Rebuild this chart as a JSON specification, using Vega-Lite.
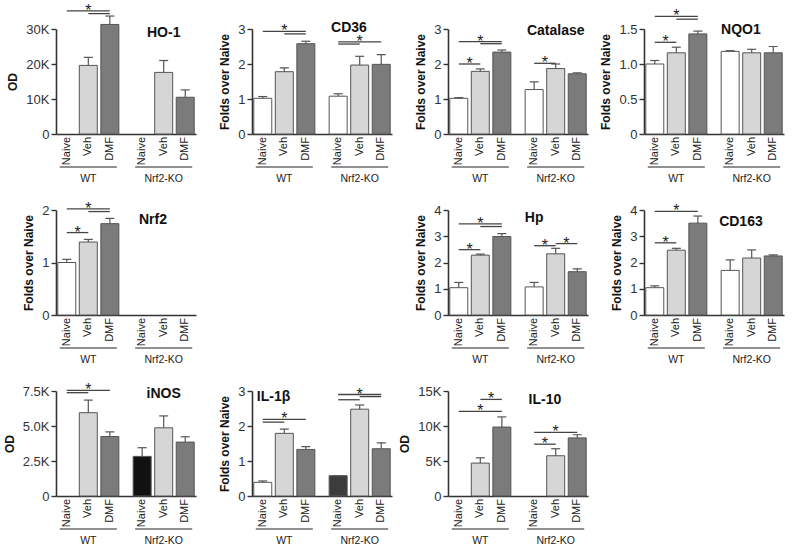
{
"$schema": "https://vega.github.io/schema/vega-lite/v6.json",
"padding": {"left": 3, "top": 2, "right": 5, "bottom": 5},
"background": "white",
"config": {
  "font": "Liberation Sans",
  "view": {"stroke": null},
  "axisX": {"labels": false, "ticks": false, "title": null, "domainColor": "#333", "domainWidth": 1.6, "grid": false},
  "axisY": {"grid": false, "domainColor": "#333", "domainWidth": 1.6, "tickColor": "#333", "tickWidth": 1.4, "tickSize": 5, "labelFontSize": 13, "labelColor": "#333", "labelPadding": 2, "titleFontSize": 12, "titleFontWeight": "bold", "titleColor": "#111", "titlePadding": 6}
},
"datasets": {
  "conds": [
    {"cond": "WT Naive", "treat": "Naive"}, {"cond": "WT Veh", "treat": "Veh"}, {"cond": "WT DMF", "treat": "DMF"},
    {"cond": "KO Naive", "treat": "Naive"}, {"cond": "KO Veh", "treat": "Veh"}, {"cond": "KO DMF", "treat": "DMF"}
  ],
  "groups": [
    {"group": "WT", "from": "WT Naive", "mid": "WT Veh", "to": "WT DMF"},
    {"group": "Nrf2-KO", "from": "KO Naive", "mid": "KO Veh", "to": "KO DMF"}
  ],
  "bars": [
    {"panel": "HO-1", "cond": "WT Veh", "treat": "Veh", "value": 19600, "hi": 21900},
    {"panel": "HO-1", "cond": "WT DMF", "treat": "DMF", "value": 31300, "hi": 33700},
    {"panel": "HO-1", "cond": "KO Veh", "treat": "Veh", "value": 17600, "hi": 21000},
    {"panel": "HO-1", "cond": "KO DMF", "treat": "DMF", "value": 10500, "hi": 12600},
    {"panel": "CD36", "cond": "WT Naive", "treat": "Naive", "value": 1.02, "hi": 1.07},
    {"panel": "CD36", "cond": "WT Veh", "treat": "Veh", "value": 1.78, "hi": 1.89},
    {"panel": "CD36", "cond": "WT DMF", "treat": "DMF", "value": 2.58, "hi": 2.65},
    {"panel": "CD36", "cond": "KO Naive", "treat": "Naive", "value": 1.08, "hi": 1.15},
    {"panel": "CD36", "cond": "KO Veh", "treat": "Veh", "value": 1.97, "hi": 2.22},
    {"panel": "CD36", "cond": "KO DMF", "treat": "DMF", "value": 1.99, "hi": 2.27},
    {"panel": "Catalase", "cond": "WT Naive", "treat": "Naive", "value": 1.02, "hi": 1.04},
    {"panel": "Catalase", "cond": "WT Veh", "treat": "Veh", "value": 1.79, "hi": 1.86},
    {"panel": "Catalase", "cond": "WT DMF", "treat": "DMF", "value": 2.34, "hi": 2.40},
    {"panel": "Catalase", "cond": "KO Naive", "treat": "Naive", "value": 1.27, "hi": 1.49},
    {"panel": "Catalase", "cond": "KO Veh", "treat": "Veh", "value": 1.87, "hi": 2.0},
    {"panel": "Catalase", "cond": "KO DMF", "treat": "DMF", "value": 1.72, "hi": 1.75},
    {"panel": "NQO1", "cond": "WT Naive", "treat": "Naive", "value": 1.0, "hi": 1.05},
    {"panel": "NQO1", "cond": "WT Veh", "treat": "Veh", "value": 1.16, "hi": 1.24},
    {"panel": "NQO1", "cond": "WT DMF", "treat": "DMF", "value": 1.43, "hi": 1.47},
    {"panel": "NQO1", "cond": "KO Naive", "treat": "Naive", "value": 1.18, "hi": 1.19},
    {"panel": "NQO1", "cond": "KO Veh", "treat": "Veh", "value": 1.16, "hi": 1.21},
    {"panel": "NQO1", "cond": "KO DMF", "treat": "DMF", "value": 1.16, "hi": 1.25},
    {"panel": "Nrf2", "cond": "WT Naive", "treat": "Naive", "value": 1.0, "hi": 1.06},
    {"panel": "Nrf2", "cond": "WT Veh", "treat": "Veh", "value": 1.39, "hi": 1.44},
    {"panel": "Nrf2", "cond": "WT DMF", "treat": "DMF", "value": 1.74, "hi": 1.84},
    {"panel": "Hp", "cond": "WT Naive", "treat": "Naive", "value": 1.04, "hi": 1.24},
    {"panel": "Hp", "cond": "WT Veh", "treat": "Veh", "value": 2.28, "hi": 2.32},
    {"panel": "Hp", "cond": "WT DMF", "treat": "DMF", "value": 2.99, "hi": 3.1},
    {"panel": "Hp", "cond": "KO Naive", "treat": "Naive", "value": 1.07, "hi": 1.24},
    {"panel": "Hp", "cond": "KO Veh", "treat": "Veh", "value": 2.33, "hi": 2.54},
    {"panel": "Hp", "cond": "KO DMF", "treat": "DMF", "value": 1.65, "hi": 1.76},
    {"panel": "CD163", "cond": "WT Naive", "treat": "Naive", "value": 1.04, "hi": 1.11},
    {"panel": "CD163", "cond": "WT Veh", "treat": "Veh", "value": 2.47, "hi": 2.54},
    {"panel": "CD163", "cond": "WT DMF", "treat": "DMF", "value": 3.5, "hi": 3.77},
    {"panel": "CD163", "cond": "KO Naive", "treat": "Naive", "value": 1.7, "hi": 2.1},
    {"panel": "CD163", "cond": "KO Veh", "treat": "Veh", "value": 2.17, "hi": 2.48},
    {"panel": "CD163", "cond": "KO DMF", "treat": "DMF", "value": 2.25, "hi": 2.29},
    {"panel": "iNOS", "cond": "WT Veh", "treat": "Veh", "value": 5950, "hi": 6850},
    {"panel": "iNOS", "cond": "WT DMF", "treat": "DMF", "value": 4250, "hi": 4580},
    {"panel": "iNOS", "cond": "KO Naive", "treat": "Naive", "value": 2830, "hi": 3450},
    {"panel": "iNOS", "cond": "KO Veh", "treat": "Veh", "value": 4870, "hi": 5720},
    {"panel": "iNOS", "cond": "KO DMF", "treat": "DMF", "value": 3850, "hi": 4230},
    {"panel": "IL-1b", "cond": "WT Naive", "treat": "Naive", "value": 0.39, "hi": 0.43},
    {"panel": "IL-1b", "cond": "WT Veh", "treat": "Veh", "value": 1.79, "hi": 1.91},
    {"panel": "IL-1b", "cond": "WT DMF", "treat": "DMF", "value": 1.33, "hi": 1.41},
    {"panel": "IL-1b", "cond": "KO Naive", "treat": "Naive", "value": 0.58, "hi": 0.58},
    {"panel": "IL-1b", "cond": "KO Veh", "treat": "Veh", "value": 2.48, "hi": 2.6},
    {"panel": "IL-1b", "cond": "KO DMF", "treat": "DMF", "value": 1.35, "hi": 1.52},
    {"panel": "IL-10", "cond": "WT Veh", "treat": "Veh", "value": 4700, "hi": 5450},
    {"panel": "IL-10", "cond": "WT DMF", "treat": "DMF", "value": 9850, "hi": 11300},
    {"panel": "IL-10", "cond": "KO Veh", "treat": "Veh", "value": 5750, "hi": 6750},
    {"panel": "IL-10", "cond": "KO DMF", "treat": "DMF", "value": 8300, "hi": 8750}
  ],
  "sig": [
    {"panel": "HO-1", "from": "WT Naive", "to": "WT DMF", "y": 35200},
    {"panel": "HO-1", "from": "WT Veh", "to": "WT DMF", "y": 34400},
    {"panel": "CD36", "from": "WT Naive", "to": "WT DMF", "y": 2.93},
    {"panel": "CD36", "from": "WT Veh", "to": "WT DMF", "y": 2.86},
    {"panel": "CD36", "from": "KO Naive", "to": "KO DMF", "y": 2.63},
    {"panel": "CD36", "from": "KO Naive", "to": "KO Veh", "y": 2.57},
    {"panel": "Catalase", "from": "WT Naive", "to": "WT DMF", "y": 2.64},
    {"panel": "Catalase", "from": "WT Veh", "to": "WT DMF", "y": 2.58},
    {"panel": "Catalase", "from": "WT Naive", "to": "WT Veh", "y": 2.0},
    {"panel": "Catalase", "from": "KO Naive", "to": "KO Veh", "y": 2.02},
    {"panel": "NQO1", "from": "WT Naive", "to": "WT DMF", "y": 1.68},
    {"panel": "NQO1", "from": "WT Veh", "to": "WT DMF", "y": 1.64},
    {"panel": "NQO1", "from": "WT Naive", "to": "WT Veh", "y": 1.31},
    {"panel": "Nrf2", "from": "WT Naive", "to": "WT DMF", "y": 2.02},
    {"panel": "Nrf2", "from": "WT Veh", "to": "WT DMF", "y": 1.97},
    {"panel": "Nrf2", "from": "WT Naive", "to": "WT Veh", "y": 1.57},
    {"panel": "Hp", "from": "WT Naive", "to": "WT DMF", "y": 3.47},
    {"panel": "Hp", "from": "WT Veh", "to": "WT DMF", "y": 3.37},
    {"panel": "Hp", "from": "WT Naive", "to": "WT Veh", "y": 2.49},
    {"panel": "Hp", "from": "KO Naive", "to": "KO Veh", "y": 2.64},
    {"panel": "Hp", "from": "KO Veh", "to": "KO DMF", "y": 2.72},
    {"panel": "CD163", "from": "WT Naive", "to": "WT DMF", "y": 3.95},
    {"panel": "CD163", "from": "WT Naive", "to": "WT Veh", "y": 2.75},
    {"panel": "iNOS", "from": "WT Naive", "to": "WT DMF", "y": 7550},
    {"panel": "iNOS", "from": "WT Naive", "to": "WT Veh", "y": 7380},
    {"panel": "IL-1b", "from": "WT Naive", "to": "WT DMF", "y": 2.19},
    {"panel": "IL-1b", "from": "WT Naive", "to": "WT Veh", "y": 2.11},
    {"panel": "IL-1b", "from": "KO Naive", "to": "KO DMF", "y": 2.9},
    {"panel": "IL-1b", "from": "KO Naive", "to": "KO Veh", "y": 2.75},
    {"panel": "IL-1b", "from": "KO Veh", "to": "KO DMF", "y": 2.84},
    {"panel": "IL-10", "from": "WT Naive", "to": "WT DMF", "y": 12100},
    {"panel": "IL-10", "from": "WT Veh", "to": "WT DMF", "y": 13800},
    {"panel": "IL-10", "from": "KO Naive", "to": "KO DMF", "y": 9100},
    {"panel": "IL-10", "from": "KO Naive", "to": "KO Veh", "y": 7400}
  ],
  "stars": [
    {"panel": "HO-1", "cond": "WT Veh", "y": 35200},
    {"panel": "CD36", "cond": "WT Veh", "y": 2.93},
    {"panel": "CD36", "cond": "KO Veh", "y": 2.63},
    {"panel": "Catalase", "cond": "WT Veh", "y": 2.64},
    {"panel": "Catalase", "cond": "WT Naive-Veh", "y": 2.0},
    {"panel": "Catalase", "cond": "KO Naive-Veh", "y": 2.02},
    {"panel": "NQO1", "cond": "WT Veh", "y": 1.68},
    {"panel": "NQO1", "cond": "WT Naive-Veh", "y": 1.31},
    {"panel": "Nrf2", "cond": "WT Veh", "y": 2.02},
    {"panel": "Nrf2", "cond": "WT Naive-Veh", "y": 1.57},
    {"panel": "Hp", "cond": "WT Veh", "y": 3.47},
    {"panel": "Hp", "cond": "WT Naive-Veh", "y": 2.49},
    {"panel": "Hp", "cond": "KO Naive-Veh", "y": 2.64},
    {"panel": "Hp", "cond": "KO Veh-DMF", "y": 2.72},
    {"panel": "CD163", "cond": "WT Veh", "y": 3.95},
    {"panel": "CD163", "cond": "WT Naive-Veh", "y": 2.75},
    {"panel": "iNOS", "cond": "WT Veh", "y": 7550},
    {"panel": "IL-1b", "cond": "WT Veh", "y": 2.19},
    {"panel": "IL-1b", "cond": "KO Veh", "y": 2.9},
    {"panel": "IL-10", "cond": "WT Veh", "y": 12100},
    {"panel": "IL-10", "cond": "WT Veh-DMF", "y": 13800},
    {"panel": "IL-10", "cond": "KO Veh", "y": 9100},
    {"panel": "IL-10", "cond": "KO Naive-Veh", "y": 7400}
  ],
  "titles": [
    {"panel": "HO-1", "cond": "KO Veh", "y": 28900, "text": "HO-1"},
    {"panel": "CD36", "cond": "KO Naive-Veh", "y": 3.04, "text": "CD36"},
    {"panel": "Catalase", "cond": "KO Veh", "y": 2.95, "text": "Catalase"},
    {"panel": "NQO1", "cond": "KO Naive-Veh", "y": 1.49, "text": "NQO1"},
    {"panel": "Nrf2", "cond": "KO Naive-Veh", "y": 1.81, "text": "Nrf2"},
    {"panel": "Hp", "cond": "KO Naive", "y": 3.69, "text": "Hp"},
    {"panel": "CD163", "cond": "KO Naive-Veh", "y": 3.53, "text": "CD163"},
    {"panel": "iNOS", "cond": "KO Veh", "y": 7260, "text": "iNOS"},
    {"panel": "IL-1b", "cond": "WT Naive-Veh", "y": 2.83, "text": "IL-1β"},
    {"panel": "IL-10", "cond": "KO Naive-Veh", "y": 13700, "text": "IL-10"}
  ]
},
"columns": 4,
"spacing": {"row": 76, "column": 56},
"bounds": "flush",
"concat": [
{"width": 140, "height": 105, "layer": [
 {"data": {"name": "bars"}, "transform": [{"filter": "datum.panel==='HO-1'"}], "mark": {"type": "bar", "width": 18, "stroke": "#555", "strokeWidth": 1}, "encoding": {"x": {"field": "cond", "type": "nominal", "scale": {"type": "point", "domain": ["WT Naive","WT Naive-Veh","WT Veh","WT Veh-DMF","WT DMF","gap a","gap b","KO Naive","KO Naive-Veh","KO Veh","KO Veh-DMF","KO DMF"], "padding": 1.14}}, "y": {"field": "value", "type": "quantitative", "scale": {"domain": [0, 30000], "nice": false}, "axis": {"values": [0, 10000, 20000, 30000], "labelOverlap": false, "labelFlush": false, "labelBound": false, "labelExpr": "datum.value === 0 ? '0' : (datum.value/1000) + 'K'", "title": "OD"}}, "fill": {"field": "treat", "type": "nominal", "scale": {"domain": ["Naive","Veh","DMF"], "range": ["#ffffff","#d6d6d6","#7b7b7b"]}, "legend": null}}},
 {"data": {"name": "bars"}, "transform": [{"filter": "datum.panel==='HO-1'"}], "mark": {"type": "rule", "color": "#555", "strokeWidth": 1.2}, "encoding": {"x": {"field": "cond", "type": "nominal", "scale": {"type": "point", "domain": ["WT Naive","WT Naive-Veh","WT Veh","WT Veh-DMF","WT DMF","gap a","gap b","KO Naive","KO Naive-Veh","KO Veh","KO Veh-DMF","KO DMF"], "padding": 1.14}}, "y": {"field": "value", "type": "quantitative", "axis": {"values": [0, 10000, 20000, 30000], "labelOverlap": false, "labelFlush": false, "labelBound": false, "labelExpr": "datum.value === 0 ? '0' : (datum.value/1000) + 'K'", "title": "OD"}}, "y2": {"field": "hi"}}},
 {"data": {"name": "bars"}, "transform": [{"filter": "datum.panel==='HO-1'"}], "mark": {"type": "tick", "color": "#555", "thickness": 1.2, "size": 9, "opacity": 1}, "encoding": {"x": {"field": "cond", "type": "nominal", "scale": {"type": "point", "domain": ["WT Naive","WT Naive-Veh","WT Veh","WT Veh-DMF","WT DMF","gap a","gap b","KO Naive","KO Naive-Veh","KO Veh","KO Veh-DMF","KO DMF"], "padding": 1.14}}, "y": {"field": "hi", "type": "quantitative", "axis": {"values": [0, 10000, 20000, 30000], "labelOverlap": false, "labelFlush": false, "labelBound": false, "labelExpr": "datum.value === 0 ? '0' : (datum.value/1000) + 'K'", "title": "OD"}}}},
 {"data": {"name": "sig"}, "transform": [{"filter": "datum.panel==='HO-1'"}], "mark": {"type": "rule", "color": "#444", "strokeWidth": 1.3}, "encoding": {"x": {"field": "from", "type": "nominal", "scale": {"type": "point", "domain": ["WT Naive","WT Naive-Veh","WT Veh","WT Veh-DMF","WT DMF","gap a","gap b","KO Naive","KO Naive-Veh","KO Veh","KO Veh-DMF","KO DMF"], "padding": 1.14}}, "x2": {"field": "to"}, "y": {"field": "y", "type": "quantitative", "axis": {"values": [0, 10000, 20000, 30000], "labelOverlap": false, "labelFlush": false, "labelBound": false, "labelExpr": "datum.value === 0 ? '0' : (datum.value/1000) + 'K'", "title": "OD"}}}},
 {"data": {"name": "stars"}, "transform": [{"filter": "datum.panel==='HO-1'"}], "mark": {"type": "text", "text": "*", "fontSize": 16, "dy": 5, "baseline": "alphabetic", "color": "#222"}, "encoding": {"x": {"field": "cond", "type": "nominal", "scale": {"type": "point", "domain": ["WT Naive","WT Naive-Veh","WT Veh","WT Veh-DMF","WT DMF","gap a","gap b","KO Naive","KO Naive-Veh","KO Veh","KO Veh-DMF","KO DMF"], "padding": 1.14}}, "y": {"field": "y", "type": "quantitative", "axis": {"values": [0, 10000, 20000, 30000], "labelOverlap": false, "labelFlush": false, "labelBound": false, "labelExpr": "datum.value === 0 ? '0' : (datum.value/1000) + 'K'", "title": "OD"}}}},
 {"data": {"name": "titles"}, "transform": [{"filter": "datum.panel==='HO-1'"}], "mark": {"type": "text", "fontSize": 14, "fontWeight": "bold", "baseline": "middle", "color": "#111"}, "encoding": {"x": {"field": "cond", "type": "nominal", "scale": {"type": "point", "domain": ["WT Naive","WT Naive-Veh","WT Veh","WT Veh-DMF","WT DMF","gap a","gap b","KO Naive","KO Naive-Veh","KO Veh","KO Veh-DMF","KO DMF"], "padding": 1.14}}, "y": {"field": "y", "type": "quantitative", "axis": {"values": [0, 10000, 20000, 30000], "labelOverlap": false, "labelFlush": false, "labelBound": false, "labelExpr": "datum.value === 0 ? '0' : (datum.value/1000) + 'K'", "title": "OD"}}, "text": {"field": "text"}}},
 {"data": {"name": "conds"}, "mark": {"type": "text", "angle": 270, "align": "right", "baseline": "middle", "fontSize": 11, "yOffset": 3, "color": "#222"}, "encoding": {"x": {"field": "cond", "type": "nominal", "scale": {"type": "point", "domain": ["WT Naive","WT Naive-Veh","WT Veh","WT Veh-DMF","WT DMF","gap a","gap b","KO Naive","KO Naive-Veh","KO Veh","KO Veh-DMF","KO DMF"], "padding": 1.14}}, "y": {"datum": 0, "type": "quantitative", "axis": {"values": [0, 10000, 20000, 30000], "labelOverlap": false, "labelFlush": false, "labelBound": false, "labelExpr": "datum.value === 0 ? '0' : (datum.value/1000) + 'K'", "title": "OD"}}, "text": {"field": "treat"}}},
 {"data": {"name": "groups"}, "mark": {"type": "rule", "yOffset": 33, "xOffset": -7, "x2Offset": 7, "color": "#222", "strokeWidth": 1}, "encoding": {"x": {"field": "from", "type": "nominal", "scale": {"type": "point", "domain": ["WT Naive","WT Naive-Veh","WT Veh","WT Veh-DMF","WT DMF","gap a","gap b","KO Naive","KO Naive-Veh","KO Veh","KO Veh-DMF","KO DMF"], "padding": 1.14}}, "x2": {"field": "to"}, "y": {"datum": 0, "type": "quantitative", "axis": {"values": [0, 10000, 20000, 30000], "labelOverlap": false, "labelFlush": false, "labelBound": false, "labelExpr": "datum.value === 0 ? '0' : (datum.value/1000) + 'K'", "title": "OD"}}}},
 {"data": {"name": "groups"}, "mark": {"type": "text", "yOffset": 45, "fontSize": 10.5, "baseline": "middle", "color": "#222"}, "encoding": {"x": {"field": "mid", "type": "nominal", "scale": {"type": "point", "domain": ["WT Naive","WT Naive-Veh","WT Veh","WT Veh-DMF","WT DMF","gap a","gap b","KO Naive","KO Naive-Veh","KO Veh","KO Veh-DMF","KO DMF"], "padding": 1.14}}, "y": {"datum": 0, "type": "quantitative", "axis": {"values": [0, 10000, 20000, 30000], "labelOverlap": false, "labelFlush": false, "labelBound": false, "labelExpr": "datum.value === 0 ? '0' : (datum.value/1000) + 'K'", "title": "OD"}}, "text": {"field": "group"}}}
]},
{"width": 140, "height": 105, "layer": [
 {"data": {"name": "bars"}, "transform": [{"filter": "datum.panel==='CD36'"}], "mark": {"type": "bar", "width": 18, "stroke": "#555", "strokeWidth": 1}, "encoding": {"x": {"field": "cond", "type": "nominal", "scale": {"type": "point", "domain": ["WT Naive","WT Naive-Veh","WT Veh","WT Veh-DMF","WT DMF","gap a","gap b","KO Naive","KO Naive-Veh","KO Veh","KO Veh-DMF","KO DMF"], "padding": 1.14}}, "y": {"field": "value", "type": "quantitative", "scale": {"domain": [0, 3], "nice": false}, "axis": {"values": [0, 1, 2, 3], "labelOverlap": false, "labelFlush": false, "labelBound": false, "format": "d", "title": "Folds over Naive"}}, "fill": {"field": "treat", "type": "nominal", "scale": {"domain": ["Naive","Veh","DMF"], "range": ["#ffffff","#d6d6d6","#7b7b7b"]}, "legend": null}}},
 {"data": {"name": "bars"}, "transform": [{"filter": "datum.panel==='CD36'"}], "mark": {"type": "rule", "color": "#555", "strokeWidth": 1.2}, "encoding": {"x": {"field": "cond", "type": "nominal", "scale": {"type": "point", "domain": ["WT Naive","WT Naive-Veh","WT Veh","WT Veh-DMF","WT DMF","gap a","gap b","KO Naive","KO Naive-Veh","KO Veh","KO Veh-DMF","KO DMF"], "padding": 1.14}}, "y": {"field": "value", "type": "quantitative", "axis": {"values": [0, 1, 2, 3], "labelOverlap": false, "labelFlush": false, "labelBound": false, "format": "d", "title": "Folds over Naive"}}, "y2": {"field": "hi"}}},
 {"data": {"name": "bars"}, "transform": [{"filter": "datum.panel==='CD36'"}], "mark": {"type": "tick", "color": "#555", "thickness": 1.2, "size": 9, "opacity": 1}, "encoding": {"x": {"field": "cond", "type": "nominal", "scale": {"type": "point", "domain": ["WT Naive","WT Naive-Veh","WT Veh","WT Veh-DMF","WT DMF","gap a","gap b","KO Naive","KO Naive-Veh","KO Veh","KO Veh-DMF","KO DMF"], "padding": 1.14}}, "y": {"field": "hi", "type": "quantitative", "axis": {"values": [0, 1, 2, 3], "labelOverlap": false, "labelFlush": false, "labelBound": false, "format": "d", "title": "Folds over Naive"}}}},
 {"data": {"name": "sig"}, "transform": [{"filter": "datum.panel==='CD36'"}], "mark": {"type": "rule", "color": "#444", "strokeWidth": 1.3}, "encoding": {"x": {"field": "from", "type": "nominal", "scale": {"type": "point", "domain": ["WT Naive","WT Naive-Veh","WT Veh","WT Veh-DMF","WT DMF","gap a","gap b","KO Naive","KO Naive-Veh","KO Veh","KO Veh-DMF","KO DMF"], "padding": 1.14}}, "x2": {"field": "to"}, "y": {"field": "y", "type": "quantitative", "axis": {"values": [0, 1, 2, 3], "labelOverlap": false, "labelFlush": false, "labelBound": false, "format": "d", "title": "Folds over Naive"}}}},
 {"data": {"name": "stars"}, "transform": [{"filter": "datum.panel==='CD36'"}], "mark": {"type": "text", "text": "*", "fontSize": 16, "dy": 5, "baseline": "alphabetic", "color": "#222"}, "encoding": {"x": {"field": "cond", "type": "nominal", "scale": {"type": "point", "domain": ["WT Naive","WT Naive-Veh","WT Veh","WT Veh-DMF","WT DMF","gap a","gap b","KO Naive","KO Naive-Veh","KO Veh","KO Veh-DMF","KO DMF"], "padding": 1.14}}, "y": {"field": "y", "type": "quantitative", "axis": {"values": [0, 1, 2, 3], "labelOverlap": false, "labelFlush": false, "labelBound": false, "format": "d", "title": "Folds over Naive"}}}},
 {"data": {"name": "titles"}, "transform": [{"filter": "datum.panel==='CD36'"}], "mark": {"type": "text", "fontSize": 14, "fontWeight": "bold", "baseline": "middle", "color": "#111"}, "encoding": {"x": {"field": "cond", "type": "nominal", "scale": {"type": "point", "domain": ["WT Naive","WT Naive-Veh","WT Veh","WT Veh-DMF","WT DMF","gap a","gap b","KO Naive","KO Naive-Veh","KO Veh","KO Veh-DMF","KO DMF"], "padding": 1.14}}, "y": {"field": "y", "type": "quantitative", "axis": {"values": [0, 1, 2, 3], "labelOverlap": false, "labelFlush": false, "labelBound": false, "format": "d", "title": "Folds over Naive"}}, "text": {"field": "text"}}},
 {"data": {"name": "conds"}, "mark": {"type": "text", "angle": 270, "align": "right", "baseline": "middle", "fontSize": 11, "yOffset": 3, "color": "#222"}, "encoding": {"x": {"field": "cond", "type": "nominal", "scale": {"type": "point", "domain": ["WT Naive","WT Naive-Veh","WT Veh","WT Veh-DMF","WT DMF","gap a","gap b","KO Naive","KO Naive-Veh","KO Veh","KO Veh-DMF","KO DMF"], "padding": 1.14}}, "y": {"datum": 0, "type": "quantitative", "axis": {"values": [0, 1, 2, 3], "labelOverlap": false, "labelFlush": false, "labelBound": false, "format": "d", "title": "Folds over Naive"}}, "text": {"field": "treat"}}},
 {"data": {"name": "groups"}, "mark": {"type": "rule", "yOffset": 33, "xOffset": -7, "x2Offset": 7, "color": "#222", "strokeWidth": 1}, "encoding": {"x": {"field": "from", "type": "nominal", "scale": {"type": "point", "domain": ["WT Naive","WT Naive-Veh","WT Veh","WT Veh-DMF","WT DMF","gap a","gap b","KO Naive","KO Naive-Veh","KO Veh","KO Veh-DMF","KO DMF"], "padding": 1.14}}, "x2": {"field": "to"}, "y": {"datum": 0, "type": "quantitative", "axis": {"values": [0, 1, 2, 3], "labelOverlap": false, "labelFlush": false, "labelBound": false, "format": "d", "title": "Folds over Naive"}}}},
 {"data": {"name": "groups"}, "mark": {"type": "text", "yOffset": 45, "fontSize": 10.5, "baseline": "middle", "color": "#222"}, "encoding": {"x": {"field": "mid", "type": "nominal", "scale": {"type": "point", "domain": ["WT Naive","WT Naive-Veh","WT Veh","WT Veh-DMF","WT DMF","gap a","gap b","KO Naive","KO Naive-Veh","KO Veh","KO Veh-DMF","KO DMF"], "padding": 1.14}}, "y": {"datum": 0, "type": "quantitative", "axis": {"values": [0, 1, 2, 3], "labelOverlap": false, "labelFlush": false, "labelBound": false, "format": "d", "title": "Folds over Naive"}}, "text": {"field": "group"}}}
]},
{"width": 140, "height": 105, "layer": [
 {"data": {"name": "bars"}, "transform": [{"filter": "datum.panel==='Catalase'"}], "mark": {"type": "bar", "width": 18, "stroke": "#555", "strokeWidth": 1}, "encoding": {"x": {"field": "cond", "type": "nominal", "scale": {"type": "point", "domain": ["WT Naive","WT Naive-Veh","WT Veh","WT Veh-DMF","WT DMF","gap a","gap b","KO Naive","KO Naive-Veh","KO Veh","KO Veh-DMF","KO DMF"], "padding": 1.14}}, "y": {"field": "value", "type": "quantitative", "scale": {"domain": [0, 3], "nice": false}, "axis": {"values": [0, 1, 2, 3], "labelOverlap": false, "labelFlush": false, "labelBound": false, "format": "d", "title": "Folds over Naive"}}, "fill": {"field": "treat", "type": "nominal", "scale": {"domain": ["Naive","Veh","DMF"], "range": ["#ffffff","#d6d6d6","#7b7b7b"]}, "legend": null}}},
 {"data": {"name": "bars"}, "transform": [{"filter": "datum.panel==='Catalase'"}], "mark": {"type": "rule", "color": "#555", "strokeWidth": 1.2}, "encoding": {"x": {"field": "cond", "type": "nominal", "scale": {"type": "point", "domain": ["WT Naive","WT Naive-Veh","WT Veh","WT Veh-DMF","WT DMF","gap a","gap b","KO Naive","KO Naive-Veh","KO Veh","KO Veh-DMF","KO DMF"], "padding": 1.14}}, "y": {"field": "value", "type": "quantitative", "axis": {"values": [0, 1, 2, 3], "labelOverlap": false, "labelFlush": false, "labelBound": false, "format": "d", "title": "Folds over Naive"}}, "y2": {"field": "hi"}}},
 {"data": {"name": "bars"}, "transform": [{"filter": "datum.panel==='Catalase'"}], "mark": {"type": "tick", "color": "#555", "thickness": 1.2, "size": 9, "opacity": 1}, "encoding": {"x": {"field": "cond", "type": "nominal", "scale": {"type": "point", "domain": ["WT Naive","WT Naive-Veh","WT Veh","WT Veh-DMF","WT DMF","gap a","gap b","KO Naive","KO Naive-Veh","KO Veh","KO Veh-DMF","KO DMF"], "padding": 1.14}}, "y": {"field": "hi", "type": "quantitative", "axis": {"values": [0, 1, 2, 3], "labelOverlap": false, "labelFlush": false, "labelBound": false, "format": "d", "title": "Folds over Naive"}}}},
 {"data": {"name": "sig"}, "transform": [{"filter": "datum.panel==='Catalase'"}], "mark": {"type": "rule", "color": "#444", "strokeWidth": 1.3}, "encoding": {"x": {"field": "from", "type": "nominal", "scale": {"type": "point", "domain": ["WT Naive","WT Naive-Veh","WT Veh","WT Veh-DMF","WT DMF","gap a","gap b","KO Naive","KO Naive-Veh","KO Veh","KO Veh-DMF","KO DMF"], "padding": 1.14}}, "x2": {"field": "to"}, "y": {"field": "y", "type": "quantitative", "axis": {"values": [0, 1, 2, 3], "labelOverlap": false, "labelFlush": false, "labelBound": false, "format": "d", "title": "Folds over Naive"}}}},
 {"data": {"name": "stars"}, "transform": [{"filter": "datum.panel==='Catalase'"}], "mark": {"type": "text", "text": "*", "fontSize": 16, "dy": 5, "baseline": "alphabetic", "color": "#222"}, "encoding": {"x": {"field": "cond", "type": "nominal", "scale": {"type": "point", "domain": ["WT Naive","WT Naive-Veh","WT Veh","WT Veh-DMF","WT DMF","gap a","gap b","KO Naive","KO Naive-Veh","KO Veh","KO Veh-DMF","KO DMF"], "padding": 1.14}}, "y": {"field": "y", "type": "quantitative", "axis": {"values": [0, 1, 2, 3], "labelOverlap": false, "labelFlush": false, "labelBound": false, "format": "d", "title": "Folds over Naive"}}}},
 {"data": {"name": "titles"}, "transform": [{"filter": "datum.panel==='Catalase'"}], "mark": {"type": "text", "fontSize": 14, "fontWeight": "bold", "baseline": "middle", "color": "#111"}, "encoding": {"x": {"field": "cond", "type": "nominal", "scale": {"type": "point", "domain": ["WT Naive","WT Naive-Veh","WT Veh","WT Veh-DMF","WT DMF","gap a","gap b","KO Naive","KO Naive-Veh","KO Veh","KO Veh-DMF","KO DMF"], "padding": 1.14}}, "y": {"field": "y", "type": "quantitative", "axis": {"values": [0, 1, 2, 3], "labelOverlap": false, "labelFlush": false, "labelBound": false, "format": "d", "title": "Folds over Naive"}}, "text": {"field": "text"}}},
 {"data": {"name": "conds"}, "mark": {"type": "text", "angle": 270, "align": "right", "baseline": "middle", "fontSize": 11, "yOffset": 3, "color": "#222"}, "encoding": {"x": {"field": "cond", "type": "nominal", "scale": {"type": "point", "domain": ["WT Naive","WT Naive-Veh","WT Veh","WT Veh-DMF","WT DMF","gap a","gap b","KO Naive","KO Naive-Veh","KO Veh","KO Veh-DMF","KO DMF"], "padding": 1.14}}, "y": {"datum": 0, "type": "quantitative", "axis": {"values": [0, 1, 2, 3], "labelOverlap": false, "labelFlush": false, "labelBound": false, "format": "d", "title": "Folds over Naive"}}, "text": {"field": "treat"}}},
 {"data": {"name": "groups"}, "mark": {"type": "rule", "yOffset": 33, "xOffset": -7, "x2Offset": 7, "color": "#222", "strokeWidth": 1}, "encoding": {"x": {"field": "from", "type": "nominal", "scale": {"type": "point", "domain": ["WT Naive","WT Naive-Veh","WT Veh","WT Veh-DMF","WT DMF","gap a","gap b","KO Naive","KO Naive-Veh","KO Veh","KO Veh-DMF","KO DMF"], "padding": 1.14}}, "x2": {"field": "to"}, "y": {"datum": 0, "type": "quantitative", "axis": {"values": [0, 1, 2, 3], "labelOverlap": false, "labelFlush": false, "labelBound": false, "format": "d", "title": "Folds over Naive"}}}},
 {"data": {"name": "groups"}, "mark": {"type": "text", "yOffset": 45, "fontSize": 10.5, "baseline": "middle", "color": "#222"}, "encoding": {"x": {"field": "mid", "type": "nominal", "scale": {"type": "point", "domain": ["WT Naive","WT Naive-Veh","WT Veh","WT Veh-DMF","WT DMF","gap a","gap b","KO Naive","KO Naive-Veh","KO Veh","KO Veh-DMF","KO DMF"], "padding": 1.14}}, "y": {"datum": 0, "type": "quantitative", "axis": {"values": [0, 1, 2, 3], "labelOverlap": false, "labelFlush": false, "labelBound": false, "format": "d", "title": "Folds over Naive"}}, "text": {"field": "group"}}}
]},
{"width": 140, "height": 105, "layer": [
 {"data": {"name": "bars"}, "transform": [{"filter": "datum.panel==='NQO1'"}], "mark": {"type": "bar", "width": 18, "stroke": "#555", "strokeWidth": 1}, "encoding": {"x": {"field": "cond", "type": "nominal", "scale": {"type": "point", "domain": ["WT Naive","WT Naive-Veh","WT Veh","WT Veh-DMF","WT DMF","gap a","gap b","KO Naive","KO Naive-Veh","KO Veh","KO Veh-DMF","KO DMF"], "padding": 1.14}}, "y": {"field": "value", "type": "quantitative", "scale": {"domain": [0, 1.5], "nice": false}, "axis": {"values": [0, 0.5, 1, 1.5], "labelOverlap": false, "labelFlush": false, "labelBound": false, "labelExpr": "datum.value === 0 ? '0' : format(datum.value, '.1f')", "title": "Folds over Naive"}}, "fill": {"field": "treat", "type": "nominal", "scale": {"domain": ["Naive","Veh","DMF"], "range": ["#ffffff","#d6d6d6","#7b7b7b"]}, "legend": null}}},
 {"data": {"name": "bars"}, "transform": [{"filter": "datum.panel==='NQO1'"}], "mark": {"type": "rule", "color": "#555", "strokeWidth": 1.2}, "encoding": {"x": {"field": "cond", "type": "nominal", "scale": {"type": "point", "domain": ["WT Naive","WT Naive-Veh","WT Veh","WT Veh-DMF","WT DMF","gap a","gap b","KO Naive","KO Naive-Veh","KO Veh","KO Veh-DMF","KO DMF"], "padding": 1.14}}, "y": {"field": "value", "type": "quantitative", "axis": {"values": [0, 0.5, 1, 1.5], "labelOverlap": false, "labelFlush": false, "labelBound": false, "labelExpr": "datum.value === 0 ? '0' : format(datum.value, '.1f')", "title": "Folds over Naive"}}, "y2": {"field": "hi"}}},
 {"data": {"name": "bars"}, "transform": [{"filter": "datum.panel==='NQO1'"}], "mark": {"type": "tick", "color": "#555", "thickness": 1.2, "size": 9, "opacity": 1}, "encoding": {"x": {"field": "cond", "type": "nominal", "scale": {"type": "point", "domain": ["WT Naive","WT Naive-Veh","WT Veh","WT Veh-DMF","WT DMF","gap a","gap b","KO Naive","KO Naive-Veh","KO Veh","KO Veh-DMF","KO DMF"], "padding": 1.14}}, "y": {"field": "hi", "type": "quantitative", "axis": {"values": [0, 0.5, 1, 1.5], "labelOverlap": false, "labelFlush": false, "labelBound": false, "labelExpr": "datum.value === 0 ? '0' : format(datum.value, '.1f')", "title": "Folds over Naive"}}}},
 {"data": {"name": "sig"}, "transform": [{"filter": "datum.panel==='NQO1'"}], "mark": {"type": "rule", "color": "#444", "strokeWidth": 1.3}, "encoding": {"x": {"field": "from", "type": "nominal", "scale": {"type": "point", "domain": ["WT Naive","WT Naive-Veh","WT Veh","WT Veh-DMF","WT DMF","gap a","gap b","KO Naive","KO Naive-Veh","KO Veh","KO Veh-DMF","KO DMF"], "padding": 1.14}}, "x2": {"field": "to"}, "y": {"field": "y", "type": "quantitative", "axis": {"values": [0, 0.5, 1, 1.5], "labelOverlap": false, "labelFlush": false, "labelBound": false, "labelExpr": "datum.value === 0 ? '0' : format(datum.value, '.1f')", "title": "Folds over Naive"}}}},
 {"data": {"name": "stars"}, "transform": [{"filter": "datum.panel==='NQO1'"}], "mark": {"type": "text", "text": "*", "fontSize": 16, "dy": 5, "baseline": "alphabetic", "color": "#222"}, "encoding": {"x": {"field": "cond", "type": "nominal", "scale": {"type": "point", "domain": ["WT Naive","WT Naive-Veh","WT Veh","WT Veh-DMF","WT DMF","gap a","gap b","KO Naive","KO Naive-Veh","KO Veh","KO Veh-DMF","KO DMF"], "padding": 1.14}}, "y": {"field": "y", "type": "quantitative", "axis": {"values": [0, 0.5, 1, 1.5], "labelOverlap": false, "labelFlush": false, "labelBound": false, "labelExpr": "datum.value === 0 ? '0' : format(datum.value, '.1f')", "title": "Folds over Naive"}}}},
 {"data": {"name": "titles"}, "transform": [{"filter": "datum.panel==='NQO1'"}], "mark": {"type": "text", "fontSize": 14, "fontWeight": "bold", "baseline": "middle", "color": "#111"}, "encoding": {"x": {"field": "cond", "type": "nominal", "scale": {"type": "point", "domain": ["WT Naive","WT Naive-Veh","WT Veh","WT Veh-DMF","WT DMF","gap a","gap b","KO Naive","KO Naive-Veh","KO Veh","KO Veh-DMF","KO DMF"], "padding": 1.14}}, "y": {"field": "y", "type": "quantitative", "axis": {"values": [0, 0.5, 1, 1.5], "labelOverlap": false, "labelFlush": false, "labelBound": false, "labelExpr": "datum.value === 0 ? '0' : format(datum.value, '.1f')", "title": "Folds over Naive"}}, "text": {"field": "text"}}},
 {"data": {"name": "conds"}, "mark": {"type": "text", "angle": 270, "align": "right", "baseline": "middle", "fontSize": 11, "yOffset": 3, "color": "#222"}, "encoding": {"x": {"field": "cond", "type": "nominal", "scale": {"type": "point", "domain": ["WT Naive","WT Naive-Veh","WT Veh","WT Veh-DMF","WT DMF","gap a","gap b","KO Naive","KO Naive-Veh","KO Veh","KO Veh-DMF","KO DMF"], "padding": 1.14}}, "y": {"datum": 0, "type": "quantitative", "axis": {"values": [0, 0.5, 1, 1.5], "labelOverlap": false, "labelFlush": false, "labelBound": false, "labelExpr": "datum.value === 0 ? '0' : format(datum.value, '.1f')", "title": "Folds over Naive"}}, "text": {"field": "treat"}}},
 {"data": {"name": "groups"}, "mark": {"type": "rule", "yOffset": 33, "xOffset": -7, "x2Offset": 7, "color": "#222", "strokeWidth": 1}, "encoding": {"x": {"field": "from", "type": "nominal", "scale": {"type": "point", "domain": ["WT Naive","WT Naive-Veh","WT Veh","WT Veh-DMF","WT DMF","gap a","gap b","KO Naive","KO Naive-Veh","KO Veh","KO Veh-DMF","KO DMF"], "padding": 1.14}}, "x2": {"field": "to"}, "y": {"datum": 0, "type": "quantitative", "axis": {"values": [0, 0.5, 1, 1.5], "labelOverlap": false, "labelFlush": false, "labelBound": false, "labelExpr": "datum.value === 0 ? '0' : format(datum.value, '.1f')", "title": "Folds over Naive"}}}},
 {"data": {"name": "groups"}, "mark": {"type": "text", "yOffset": 45, "fontSize": 10.5, "baseline": "middle", "color": "#222"}, "encoding": {"x": {"field": "mid", "type": "nominal", "scale": {"type": "point", "domain": ["WT Naive","WT Naive-Veh","WT Veh","WT Veh-DMF","WT DMF","gap a","gap b","KO Naive","KO Naive-Veh","KO Veh","KO Veh-DMF","KO DMF"], "padding": 1.14}}, "y": {"datum": 0, "type": "quantitative", "axis": {"values": [0, 0.5, 1, 1.5], "labelOverlap": false, "labelFlush": false, "labelBound": false, "labelExpr": "datum.value === 0 ? '0' : format(datum.value, '.1f')", "title": "Folds over Naive"}}, "text": {"field": "group"}}}
]},
{"width": 140, "height": 105, "layer": [
 {"data": {"name": "bars"}, "transform": [{"filter": "datum.panel==='Nrf2'"}], "mark": {"type": "bar", "width": 18, "stroke": "#555", "strokeWidth": 1}, "encoding": {"x": {"field": "cond", "type": "nominal", "scale": {"type": "point", "domain": ["WT Naive","WT Naive-Veh","WT Veh","WT Veh-DMF","WT DMF","gap a","gap b","KO Naive","KO Naive-Veh","KO Veh","KO Veh-DMF","KO DMF"], "padding": 1.14}}, "y": {"field": "value", "type": "quantitative", "scale": {"domain": [0, 2], "nice": false}, "axis": {"tickCount": 2, "labelOverlap": false, "labelFlush": false, "labelBound": false, "labelExpr": "format(datum.value, 'd')", "title": "Folds over Naive"}}, "fill": {"field": "treat", "type": "nominal", "scale": {"domain": ["Naive","Veh","DMF"], "range": ["#ffffff","#d6d6d6","#7b7b7b"]}, "legend": null}}},
 {"data": {"name": "bars"}, "transform": [{"filter": "datum.panel==='Nrf2'"}], "mark": {"type": "rule", "color": "#555", "strokeWidth": 1.2}, "encoding": {"x": {"field": "cond", "type": "nominal", "scale": {"type": "point", "domain": ["WT Naive","WT Naive-Veh","WT Veh","WT Veh-DMF","WT DMF","gap a","gap b","KO Naive","KO Naive-Veh","KO Veh","KO Veh-DMF","KO DMF"], "padding": 1.14}}, "y": {"field": "value", "type": "quantitative", "axis": {"tickCount": 2, "labelOverlap": false, "labelFlush": false, "labelBound": false, "labelExpr": "format(datum.value, 'd')", "title": "Folds over Naive"}}, "y2": {"field": "hi"}}},
 {"data": {"name": "bars"}, "transform": [{"filter": "datum.panel==='Nrf2'"}], "mark": {"type": "tick", "color": "#555", "thickness": 1.2, "size": 9, "opacity": 1}, "encoding": {"x": {"field": "cond", "type": "nominal", "scale": {"type": "point", "domain": ["WT Naive","WT Naive-Veh","WT Veh","WT Veh-DMF","WT DMF","gap a","gap b","KO Naive","KO Naive-Veh","KO Veh","KO Veh-DMF","KO DMF"], "padding": 1.14}}, "y": {"field": "hi", "type": "quantitative", "axis": {"tickCount": 2, "labelOverlap": false, "labelFlush": false, "labelBound": false, "labelExpr": "format(datum.value, 'd')", "title": "Folds over Naive"}}}},
 {"data": {"name": "sig"}, "transform": [{"filter": "datum.panel==='Nrf2'"}], "mark": {"type": "rule", "color": "#444", "strokeWidth": 1.3}, "encoding": {"x": {"field": "from", "type": "nominal", "scale": {"type": "point", "domain": ["WT Naive","WT Naive-Veh","WT Veh","WT Veh-DMF","WT DMF","gap a","gap b","KO Naive","KO Naive-Veh","KO Veh","KO Veh-DMF","KO DMF"], "padding": 1.14}}, "x2": {"field": "to"}, "y": {"field": "y", "type": "quantitative", "axis": {"tickCount": 2, "labelOverlap": false, "labelFlush": false, "labelBound": false, "labelExpr": "format(datum.value, 'd')", "title": "Folds over Naive"}}}},
 {"data": {"name": "stars"}, "transform": [{"filter": "datum.panel==='Nrf2'"}], "mark": {"type": "text", "text": "*", "fontSize": 16, "dy": 5, "baseline": "alphabetic", "color": "#222"}, "encoding": {"x": {"field": "cond", "type": "nominal", "scale": {"type": "point", "domain": ["WT Naive","WT Naive-Veh","WT Veh","WT Veh-DMF","WT DMF","gap a","gap b","KO Naive","KO Naive-Veh","KO Veh","KO Veh-DMF","KO DMF"], "padding": 1.14}}, "y": {"field": "y", "type": "quantitative", "axis": {"tickCount": 2, "labelOverlap": false, "labelFlush": false, "labelBound": false, "labelExpr": "format(datum.value, 'd')", "title": "Folds over Naive"}}}},
 {"data": {"name": "titles"}, "transform": [{"filter": "datum.panel==='Nrf2'"}], "mark": {"type": "text", "fontSize": 14, "fontWeight": "bold", "baseline": "middle", "color": "#111"}, "encoding": {"x": {"field": "cond", "type": "nominal", "scale": {"type": "point", "domain": ["WT Naive","WT Naive-Veh","WT Veh","WT Veh-DMF","WT DMF","gap a","gap b","KO Naive","KO Naive-Veh","KO Veh","KO Veh-DMF","KO DMF"], "padding": 1.14}}, "y": {"field": "y", "type": "quantitative", "axis": {"tickCount": 2, "labelOverlap": false, "labelFlush": false, "labelBound": false, "labelExpr": "format(datum.value, 'd')", "title": "Folds over Naive"}}, "text": {"field": "text"}}},
 {"data": {"name": "conds"}, "mark": {"type": "text", "angle": 270, "align": "right", "baseline": "middle", "fontSize": 11, "yOffset": 3, "color": "#222"}, "encoding": {"x": {"field": "cond", "type": "nominal", "scale": {"type": "point", "domain": ["WT Naive","WT Naive-Veh","WT Veh","WT Veh-DMF","WT DMF","gap a","gap b","KO Naive","KO Naive-Veh","KO Veh","KO Veh-DMF","KO DMF"], "padding": 1.14}}, "y": {"datum": 0, "type": "quantitative", "axis": {"tickCount": 2, "labelOverlap": false, "labelFlush": false, "labelBound": false, "labelExpr": "format(datum.value, 'd')", "title": "Folds over Naive"}}, "text": {"field": "treat"}}},
 {"data": {"name": "groups"}, "mark": {"type": "rule", "yOffset": 33, "xOffset": -7, "x2Offset": 7, "color": "#222", "strokeWidth": 1}, "encoding": {"x": {"field": "from", "type": "nominal", "scale": {"type": "point", "domain": ["WT Naive","WT Naive-Veh","WT Veh","WT Veh-DMF","WT DMF","gap a","gap b","KO Naive","KO Naive-Veh","KO Veh","KO Veh-DMF","KO DMF"], "padding": 1.14}}, "x2": {"field": "to"}, "y": {"datum": 0, "type": "quantitative", "axis": {"tickCount": 2, "labelOverlap": false, "labelFlush": false, "labelBound": false, "labelExpr": "format(datum.value, 'd')", "title": "Folds over Naive"}}}},
 {"data": {"name": "groups"}, "mark": {"type": "text", "yOffset": 45, "fontSize": 10.5, "baseline": "middle", "color": "#222"}, "encoding": {"x": {"field": "mid", "type": "nominal", "scale": {"type": "point", "domain": ["WT Naive","WT Naive-Veh","WT Veh","WT Veh-DMF","WT DMF","gap a","gap b","KO Naive","KO Naive-Veh","KO Veh","KO Veh-DMF","KO DMF"], "padding": 1.14}}, "y": {"datum": 0, "type": "quantitative", "axis": {"tickCount": 2, "labelOverlap": false, "labelFlush": false, "labelBound": false, "labelExpr": "format(datum.value, 'd')", "title": "Folds over Naive"}}, "text": {"field": "group"}}}
]},
{"width": 140, "height": 105, "data": {"values": []}, "mark": "text", "encoding": {}},
{"width": 140, "height": 105, "layer": [
 {"data": {"name": "bars"}, "transform": [{"filter": "datum.panel==='Hp'"}], "mark": {"type": "bar", "width": 18, "stroke": "#555", "strokeWidth": 1}, "encoding": {"x": {"field": "cond", "type": "nominal", "scale": {"type": "point", "domain": ["WT Naive","WT Naive-Veh","WT Veh","WT Veh-DMF","WT DMF","gap a","gap b","KO Naive","KO Naive-Veh","KO Veh","KO Veh-DMF","KO DMF"], "padding": 1.14}}, "y": {"field": "value", "type": "quantitative", "scale": {"domain": [0, 4], "nice": false}, "axis": {"values": [0, 1, 2, 3, 4], "labelOverlap": false, "labelFlush": false, "labelBound": false, "format": "d", "title": "Folds over Naive"}}, "fill": {"field": "treat", "type": "nominal", "scale": {"domain": ["Naive","Veh","DMF"], "range": ["#ffffff","#d6d6d6","#7b7b7b"]}, "legend": null}}},
 {"data": {"name": "bars"}, "transform": [{"filter": "datum.panel==='Hp'"}], "mark": {"type": "rule", "color": "#555", "strokeWidth": 1.2}, "encoding": {"x": {"field": "cond", "type": "nominal", "scale": {"type": "point", "domain": ["WT Naive","WT Naive-Veh","WT Veh","WT Veh-DMF","WT DMF","gap a","gap b","KO Naive","KO Naive-Veh","KO Veh","KO Veh-DMF","KO DMF"], "padding": 1.14}}, "y": {"field": "value", "type": "quantitative", "axis": {"values": [0, 1, 2, 3, 4], "labelOverlap": false, "labelFlush": false, "labelBound": false, "format": "d", "title": "Folds over Naive"}}, "y2": {"field": "hi"}}},
 {"data": {"name": "bars"}, "transform": [{"filter": "datum.panel==='Hp'"}], "mark": {"type": "tick", "color": "#555", "thickness": 1.2, "size": 9, "opacity": 1}, "encoding": {"x": {"field": "cond", "type": "nominal", "scale": {"type": "point", "domain": ["WT Naive","WT Naive-Veh","WT Veh","WT Veh-DMF","WT DMF","gap a","gap b","KO Naive","KO Naive-Veh","KO Veh","KO Veh-DMF","KO DMF"], "padding": 1.14}}, "y": {"field": "hi", "type": "quantitative", "axis": {"values": [0, 1, 2, 3, 4], "labelOverlap": false, "labelFlush": false, "labelBound": false, "format": "d", "title": "Folds over Naive"}}}},
 {"data": {"name": "sig"}, "transform": [{"filter": "datum.panel==='Hp'"}], "mark": {"type": "rule", "color": "#444", "strokeWidth": 1.3}, "encoding": {"x": {"field": "from", "type": "nominal", "scale": {"type": "point", "domain": ["WT Naive","WT Naive-Veh","WT Veh","WT Veh-DMF","WT DMF","gap a","gap b","KO Naive","KO Naive-Veh","KO Veh","KO Veh-DMF","KO DMF"], "padding": 1.14}}, "x2": {"field": "to"}, "y": {"field": "y", "type": "quantitative", "axis": {"values": [0, 1, 2, 3, 4], "labelOverlap": false, "labelFlush": false, "labelBound": false, "format": "d", "title": "Folds over Naive"}}}},
 {"data": {"name": "stars"}, "transform": [{"filter": "datum.panel==='Hp'"}], "mark": {"type": "text", "text": "*", "fontSize": 16, "dy": 5, "baseline": "alphabetic", "color": "#222"}, "encoding": {"x": {"field": "cond", "type": "nominal", "scale": {"type": "point", "domain": ["WT Naive","WT Naive-Veh","WT Veh","WT Veh-DMF","WT DMF","gap a","gap b","KO Naive","KO Naive-Veh","KO Veh","KO Veh-DMF","KO DMF"], "padding": 1.14}}, "y": {"field": "y", "type": "quantitative", "axis": {"values": [0, 1, 2, 3, 4], "labelOverlap": false, "labelFlush": false, "labelBound": false, "format": "d", "title": "Folds over Naive"}}}},
 {"data": {"name": "titles"}, "transform": [{"filter": "datum.panel==='Hp'"}], "mark": {"type": "text", "fontSize": 14, "fontWeight": "bold", "baseline": "middle", "color": "#111"}, "encoding": {"x": {"field": "cond", "type": "nominal", "scale": {"type": "point", "domain": ["WT Naive","WT Naive-Veh","WT Veh","WT Veh-DMF","WT DMF","gap a","gap b","KO Naive","KO Naive-Veh","KO Veh","KO Veh-DMF","KO DMF"], "padding": 1.14}}, "y": {"field": "y", "type": "quantitative", "axis": {"values": [0, 1, 2, 3, 4], "labelOverlap": false, "labelFlush": false, "labelBound": false, "format": "d", "title": "Folds over Naive"}}, "text": {"field": "text"}}},
 {"data": {"name": "conds"}, "mark": {"type": "text", "angle": 270, "align": "right", "baseline": "middle", "fontSize": 11, "yOffset": 3, "color": "#222"}, "encoding": {"x": {"field": "cond", "type": "nominal", "scale": {"type": "point", "domain": ["WT Naive","WT Naive-Veh","WT Veh","WT Veh-DMF","WT DMF","gap a","gap b","KO Naive","KO Naive-Veh","KO Veh","KO Veh-DMF","KO DMF"], "padding": 1.14}}, "y": {"datum": 0, "type": "quantitative", "axis": {"values": [0, 1, 2, 3, 4], "labelOverlap": false, "labelFlush": false, "labelBound": false, "format": "d", "title": "Folds over Naive"}}, "text": {"field": "treat"}}},
 {"data": {"name": "groups"}, "mark": {"type": "rule", "yOffset": 33, "xOffset": -7, "x2Offset": 7, "color": "#222", "strokeWidth": 1}, "encoding": {"x": {"field": "from", "type": "nominal", "scale": {"type": "point", "domain": ["WT Naive","WT Naive-Veh","WT Veh","WT Veh-DMF","WT DMF","gap a","gap b","KO Naive","KO Naive-Veh","KO Veh","KO Veh-DMF","KO DMF"], "padding": 1.14}}, "x2": {"field": "to"}, "y": {"datum": 0, "type": "quantitative", "axis": {"values": [0, 1, 2, 3, 4], "labelOverlap": false, "labelFlush": false, "labelBound": false, "format": "d", "title": "Folds over Naive"}}}},
 {"data": {"name": "groups"}, "mark": {"type": "text", "yOffset": 45, "fontSize": 10.5, "baseline": "middle", "color": "#222"}, "encoding": {"x": {"field": "mid", "type": "nominal", "scale": {"type": "point", "domain": ["WT Naive","WT Naive-Veh","WT Veh","WT Veh-DMF","WT DMF","gap a","gap b","KO Naive","KO Naive-Veh","KO Veh","KO Veh-DMF","KO DMF"], "padding": 1.14}}, "y": {"datum": 0, "type": "quantitative", "axis": {"values": [0, 1, 2, 3, 4], "labelOverlap": false, "labelFlush": false, "labelBound": false, "format": "d", "title": "Folds over Naive"}}, "text": {"field": "group"}}}
]},
{"width": 140, "height": 105, "layer": [
 {"data": {"name": "bars"}, "transform": [{"filter": "datum.panel==='CD163'"}], "mark": {"type": "bar", "width": 18, "stroke": "#555", "strokeWidth": 1}, "encoding": {"x": {"field": "cond", "type": "nominal", "scale": {"type": "point", "domain": ["WT Naive","WT Naive-Veh","WT Veh","WT Veh-DMF","WT DMF","gap a","gap b","KO Naive","KO Naive-Veh","KO Veh","KO Veh-DMF","KO DMF"], "padding": 1.14}}, "y": {"field": "value", "type": "quantitative", "scale": {"domain": [0, 4], "nice": false}, "axis": {"values": [0, 1, 2, 3, 4], "labelOverlap": false, "labelFlush": false, "labelBound": false, "format": "d", "title": "Folds over Naive"}}, "fill": {"field": "treat", "type": "nominal", "scale": {"domain": ["Naive","Veh","DMF"], "range": ["#ffffff","#d6d6d6","#7b7b7b"]}, "legend": null}}},
 {"data": {"name": "bars"}, "transform": [{"filter": "datum.panel==='CD163'"}], "mark": {"type": "rule", "color": "#555", "strokeWidth": 1.2}, "encoding": {"x": {"field": "cond", "type": "nominal", "scale": {"type": "point", "domain": ["WT Naive","WT Naive-Veh","WT Veh","WT Veh-DMF","WT DMF","gap a","gap b","KO Naive","KO Naive-Veh","KO Veh","KO Veh-DMF","KO DMF"], "padding": 1.14}}, "y": {"field": "value", "type": "quantitative", "axis": {"values": [0, 1, 2, 3, 4], "labelOverlap": false, "labelFlush": false, "labelBound": false, "format": "d", "title": "Folds over Naive"}}, "y2": {"field": "hi"}}},
 {"data": {"name": "bars"}, "transform": [{"filter": "datum.panel==='CD163'"}], "mark": {"type": "tick", "color": "#555", "thickness": 1.2, "size": 9, "opacity": 1}, "encoding": {"x": {"field": "cond", "type": "nominal", "scale": {"type": "point", "domain": ["WT Naive","WT Naive-Veh","WT Veh","WT Veh-DMF","WT DMF","gap a","gap b","KO Naive","KO Naive-Veh","KO Veh","KO Veh-DMF","KO DMF"], "padding": 1.14}}, "y": {"field": "hi", "type": "quantitative", "axis": {"values": [0, 1, 2, 3, 4], "labelOverlap": false, "labelFlush": false, "labelBound": false, "format": "d", "title": "Folds over Naive"}}}},
 {"data": {"name": "sig"}, "transform": [{"filter": "datum.panel==='CD163'"}], "mark": {"type": "rule", "color": "#444", "strokeWidth": 1.3}, "encoding": {"x": {"field": "from", "type": "nominal", "scale": {"type": "point", "domain": ["WT Naive","WT Naive-Veh","WT Veh","WT Veh-DMF","WT DMF","gap a","gap b","KO Naive","KO Naive-Veh","KO Veh","KO Veh-DMF","KO DMF"], "padding": 1.14}}, "x2": {"field": "to"}, "y": {"field": "y", "type": "quantitative", "axis": {"values": [0, 1, 2, 3, 4], "labelOverlap": false, "labelFlush": false, "labelBound": false, "format": "d", "title": "Folds over Naive"}}}},
 {"data": {"name": "stars"}, "transform": [{"filter": "datum.panel==='CD163'"}], "mark": {"type": "text", "text": "*", "fontSize": 16, "dy": 5, "baseline": "alphabetic", "color": "#222"}, "encoding": {"x": {"field": "cond", "type": "nominal", "scale": {"type": "point", "domain": ["WT Naive","WT Naive-Veh","WT Veh","WT Veh-DMF","WT DMF","gap a","gap b","KO Naive","KO Naive-Veh","KO Veh","KO Veh-DMF","KO DMF"], "padding": 1.14}}, "y": {"field": "y", "type": "quantitative", "axis": {"values": [0, 1, 2, 3, 4], "labelOverlap": false, "labelFlush": false, "labelBound": false, "format": "d", "title": "Folds over Naive"}}}},
 {"data": {"name": "titles"}, "transform": [{"filter": "datum.panel==='CD163'"}], "mark": {"type": "text", "fontSize": 14, "fontWeight": "bold", "baseline": "middle", "color": "#111"}, "encoding": {"x": {"field": "cond", "type": "nominal", "scale": {"type": "point", "domain": ["WT Naive","WT Naive-Veh","WT Veh","WT Veh-DMF","WT DMF","gap a","gap b","KO Naive","KO Naive-Veh","KO Veh","KO Veh-DMF","KO DMF"], "padding": 1.14}}, "y": {"field": "y", "type": "quantitative", "axis": {"values": [0, 1, 2, 3, 4], "labelOverlap": false, "labelFlush": false, "labelBound": false, "format": "d", "title": "Folds over Naive"}}, "text": {"field": "text"}}},
 {"data": {"name": "conds"}, "mark": {"type": "text", "angle": 270, "align": "right", "baseline": "middle", "fontSize": 11, "yOffset": 3, "color": "#222"}, "encoding": {"x": {"field": "cond", "type": "nominal", "scale": {"type": "point", "domain": ["WT Naive","WT Naive-Veh","WT Veh","WT Veh-DMF","WT DMF","gap a","gap b","KO Naive","KO Naive-Veh","KO Veh","KO Veh-DMF","KO DMF"], "padding": 1.14}}, "y": {"datum": 0, "type": "quantitative", "axis": {"values": [0, 1, 2, 3, 4], "labelOverlap": false, "labelFlush": false, "labelBound": false, "format": "d", "title": "Folds over Naive"}}, "text": {"field": "treat"}}},
 {"data": {"name": "groups"}, "mark": {"type": "rule", "yOffset": 33, "xOffset": -7, "x2Offset": 7, "color": "#222", "strokeWidth": 1}, "encoding": {"x": {"field": "from", "type": "nominal", "scale": {"type": "point", "domain": ["WT Naive","WT Naive-Veh","WT Veh","WT Veh-DMF","WT DMF","gap a","gap b","KO Naive","KO Naive-Veh","KO Veh","KO Veh-DMF","KO DMF"], "padding": 1.14}}, "x2": {"field": "to"}, "y": {"datum": 0, "type": "quantitative", "axis": {"values": [0, 1, 2, 3, 4], "labelOverlap": false, "labelFlush": false, "labelBound": false, "format": "d", "title": "Folds over Naive"}}}},
 {"data": {"name": "groups"}, "mark": {"type": "text", "yOffset": 45, "fontSize": 10.5, "baseline": "middle", "color": "#222"}, "encoding": {"x": {"field": "mid", "type": "nominal", "scale": {"type": "point", "domain": ["WT Naive","WT Naive-Veh","WT Veh","WT Veh-DMF","WT DMF","gap a","gap b","KO Naive","KO Naive-Veh","KO Veh","KO Veh-DMF","KO DMF"], "padding": 1.14}}, "y": {"datum": 0, "type": "quantitative", "axis": {"values": [0, 1, 2, 3, 4], "labelOverlap": false, "labelFlush": false, "labelBound": false, "format": "d", "title": "Folds over Naive"}}, "text": {"field": "group"}}}
]},
{"width": 140, "height": 105, "layer": [
 {"data": {"name": "bars"}, "transform": [{"filter": "datum.panel==='iNOS'"}], "mark": {"type": "bar", "width": 18, "stroke": "#555", "strokeWidth": 1}, "encoding": {"x": {"field": "cond", "type": "nominal", "scale": {"type": "point", "domain": ["WT Naive","WT Naive-Veh","WT Veh","WT Veh-DMF","WT DMF","gap a","gap b","KO Naive","KO Naive-Veh","KO Veh","KO Veh-DMF","KO DMF"], "padding": 1.14}}, "y": {"field": "value", "type": "quantitative", "scale": {"domain": [0, 7500], "nice": false}, "axis": {"values": [0, 2500, 5000, 7500], "labelOverlap": false, "labelFlush": false, "labelBound": false, "labelExpr": "datum.value === 0 ? '0' : format(datum.value/1000, '.1f') + 'K'", "title": "OD"}}, "fill": {"condition": {"test": "datum.cond === 'KO Naive'", "value": "#111111"}, "field": "treat", "type": "nominal", "scale": {"domain": ["Naive","Veh","DMF"], "range": ["#ffffff","#d6d6d6","#7b7b7b"]}, "legend": null}}},
 {"data": {"name": "bars"}, "transform": [{"filter": "datum.panel==='iNOS'"}], "mark": {"type": "rule", "color": "#555", "strokeWidth": 1.2}, "encoding": {"x": {"field": "cond", "type": "nominal", "scale": {"type": "point", "domain": ["WT Naive","WT Naive-Veh","WT Veh","WT Veh-DMF","WT DMF","gap a","gap b","KO Naive","KO Naive-Veh","KO Veh","KO Veh-DMF","KO DMF"], "padding": 1.14}}, "y": {"field": "value", "type": "quantitative", "axis": {"values": [0, 2500, 5000, 7500], "labelOverlap": false, "labelFlush": false, "labelBound": false, "labelExpr": "datum.value === 0 ? '0' : format(datum.value/1000, '.1f') + 'K'", "title": "OD"}}, "y2": {"field": "hi"}}},
 {"data": {"name": "bars"}, "transform": [{"filter": "datum.panel==='iNOS'"}], "mark": {"type": "tick", "color": "#555", "thickness": 1.2, "size": 9, "opacity": 1}, "encoding": {"x": {"field": "cond", "type": "nominal", "scale": {"type": "point", "domain": ["WT Naive","WT Naive-Veh","WT Veh","WT Veh-DMF","WT DMF","gap a","gap b","KO Naive","KO Naive-Veh","KO Veh","KO Veh-DMF","KO DMF"], "padding": 1.14}}, "y": {"field": "hi", "type": "quantitative", "axis": {"values": [0, 2500, 5000, 7500], "labelOverlap": false, "labelFlush": false, "labelBound": false, "labelExpr": "datum.value === 0 ? '0' : format(datum.value/1000, '.1f') + 'K'", "title": "OD"}}}},
 {"data": {"name": "sig"}, "transform": [{"filter": "datum.panel==='iNOS'"}], "mark": {"type": "rule", "color": "#444", "strokeWidth": 1.3}, "encoding": {"x": {"field": "from", "type": "nominal", "scale": {"type": "point", "domain": ["WT Naive","WT Naive-Veh","WT Veh","WT Veh-DMF","WT DMF","gap a","gap b","KO Naive","KO Naive-Veh","KO Veh","KO Veh-DMF","KO DMF"], "padding": 1.14}}, "x2": {"field": "to"}, "y": {"field": "y", "type": "quantitative", "axis": {"values": [0, 2500, 5000, 7500], "labelOverlap": false, "labelFlush": false, "labelBound": false, "labelExpr": "datum.value === 0 ? '0' : format(datum.value/1000, '.1f') + 'K'", "title": "OD"}}}},
 {"data": {"name": "stars"}, "transform": [{"filter": "datum.panel==='iNOS'"}], "mark": {"type": "text", "text": "*", "fontSize": 16, "dy": 5, "baseline": "alphabetic", "color": "#222"}, "encoding": {"x": {"field": "cond", "type": "nominal", "scale": {"type": "point", "domain": ["WT Naive","WT Naive-Veh","WT Veh","WT Veh-DMF","WT DMF","gap a","gap b","KO Naive","KO Naive-Veh","KO Veh","KO Veh-DMF","KO DMF"], "padding": 1.14}}, "y": {"field": "y", "type": "quantitative", "axis": {"values": [0, 2500, 5000, 7500], "labelOverlap": false, "labelFlush": false, "labelBound": false, "labelExpr": "datum.value === 0 ? '0' : format(datum.value/1000, '.1f') + 'K'", "title": "OD"}}}},
 {"data": {"name": "titles"}, "transform": [{"filter": "datum.panel==='iNOS'"}], "mark": {"type": "text", "fontSize": 14, "fontWeight": "bold", "baseline": "middle", "color": "#111"}, "encoding": {"x": {"field": "cond", "type": "nominal", "scale": {"type": "point", "domain": ["WT Naive","WT Naive-Veh","WT Veh","WT Veh-DMF","WT DMF","gap a","gap b","KO Naive","KO Naive-Veh","KO Veh","KO Veh-DMF","KO DMF"], "padding": 1.14}}, "y": {"field": "y", "type": "quantitative", "axis": {"values": [0, 2500, 5000, 7500], "labelOverlap": false, "labelFlush": false, "labelBound": false, "labelExpr": "datum.value === 0 ? '0' : format(datum.value/1000, '.1f') + 'K'", "title": "OD"}}, "text": {"field": "text"}}},
 {"data": {"name": "conds"}, "mark": {"type": "text", "angle": 270, "align": "right", "baseline": "middle", "fontSize": 11, "yOffset": 3, "color": "#222"}, "encoding": {"x": {"field": "cond", "type": "nominal", "scale": {"type": "point", "domain": ["WT Naive","WT Naive-Veh","WT Veh","WT Veh-DMF","WT DMF","gap a","gap b","KO Naive","KO Naive-Veh","KO Veh","KO Veh-DMF","KO DMF"], "padding": 1.14}}, "y": {"datum": 0, "type": "quantitative", "axis": {"values": [0, 2500, 5000, 7500], "labelOverlap": false, "labelFlush": false, "labelBound": false, "labelExpr": "datum.value === 0 ? '0' : format(datum.value/1000, '.1f') + 'K'", "title": "OD"}}, "text": {"field": "treat"}}},
 {"data": {"name": "groups"}, "mark": {"type": "rule", "yOffset": 33, "xOffset": -7, "x2Offset": 7, "color": "#222", "strokeWidth": 1}, "encoding": {"x": {"field": "from", "type": "nominal", "scale": {"type": "point", "domain": ["WT Naive","WT Naive-Veh","WT Veh","WT Veh-DMF","WT DMF","gap a","gap b","KO Naive","KO Naive-Veh","KO Veh","KO Veh-DMF","KO DMF"], "padding": 1.14}}, "x2": {"field": "to"}, "y": {"datum": 0, "type": "quantitative", "axis": {"values": [0, 2500, 5000, 7500], "labelOverlap": false, "labelFlush": false, "labelBound": false, "labelExpr": "datum.value === 0 ? '0' : format(datum.value/1000, '.1f') + 'K'", "title": "OD"}}}},
 {"data": {"name": "groups"}, "mark": {"type": "text", "yOffset": 45, "fontSize": 10.5, "baseline": "middle", "color": "#222"}, "encoding": {"x": {"field": "mid", "type": "nominal", "scale": {"type": "point", "domain": ["WT Naive","WT Naive-Veh","WT Veh","WT Veh-DMF","WT DMF","gap a","gap b","KO Naive","KO Naive-Veh","KO Veh","KO Veh-DMF","KO DMF"], "padding": 1.14}}, "y": {"datum": 0, "type": "quantitative", "axis": {"values": [0, 2500, 5000, 7500], "labelOverlap": false, "labelFlush": false, "labelBound": false, "labelExpr": "datum.value === 0 ? '0' : format(datum.value/1000, '.1f') + 'K'", "title": "OD"}}, "text": {"field": "group"}}}
]},
{"width": 140, "height": 105, "layer": [
 {"data": {"name": "bars"}, "transform": [{"filter": "datum.panel==='IL-1b'"}], "mark": {"type": "bar", "width": 18, "stroke": "#555", "strokeWidth": 1}, "encoding": {"x": {"field": "cond", "type": "nominal", "scale": {"type": "point", "domain": ["WT Naive","WT Naive-Veh","WT Veh","WT Veh-DMF","WT DMF","gap a","gap b","KO Naive","KO Naive-Veh","KO Veh","KO Veh-DMF","KO DMF"], "padding": 1.14}}, "y": {"field": "value", "type": "quantitative", "scale": {"domain": [0, 3], "nice": false}, "axis": {"values": [0, 1, 2, 3], "labelOverlap": false, "labelFlush": false, "labelBound": false, "format": "d", "title": "Folds over Naive"}}, "fill": {"condition": {"test": "datum.cond === 'KO Naive'", "value": "#3c3c3c"}, "field": "treat", "type": "nominal", "scale": {"domain": ["Naive","Veh","DMF"], "range": ["#ffffff","#d6d6d6","#7b7b7b"]}, "legend": null}}},
 {"data": {"name": "bars"}, "transform": [{"filter": "datum.panel==='IL-1b'"}], "mark": {"type": "rule", "color": "#555", "strokeWidth": 1.2}, "encoding": {"x": {"field": "cond", "type": "nominal", "scale": {"type": "point", "domain": ["WT Naive","WT Naive-Veh","WT Veh","WT Veh-DMF","WT DMF","gap a","gap b","KO Naive","KO Naive-Veh","KO Veh","KO Veh-DMF","KO DMF"], "padding": 1.14}}, "y": {"field": "value", "type": "quantitative", "axis": {"values": [0, 1, 2, 3], "labelOverlap": false, "labelFlush": false, "labelBound": false, "format": "d", "title": "Folds over Naive"}}, "y2": {"field": "hi"}}},
 {"data": {"name": "bars"}, "transform": [{"filter": "datum.panel==='IL-1b'"}], "mark": {"type": "tick", "color": "#555", "thickness": 1.2, "size": 9, "opacity": 1}, "encoding": {"x": {"field": "cond", "type": "nominal", "scale": {"type": "point", "domain": ["WT Naive","WT Naive-Veh","WT Veh","WT Veh-DMF","WT DMF","gap a","gap b","KO Naive","KO Naive-Veh","KO Veh","KO Veh-DMF","KO DMF"], "padding": 1.14}}, "y": {"field": "hi", "type": "quantitative", "axis": {"values": [0, 1, 2, 3], "labelOverlap": false, "labelFlush": false, "labelBound": false, "format": "d", "title": "Folds over Naive"}}}},
 {"data": {"name": "sig"}, "transform": [{"filter": "datum.panel==='IL-1b'"}], "mark": {"type": "rule", "color": "#444", "strokeWidth": 1.3}, "encoding": {"x": {"field": "from", "type": "nominal", "scale": {"type": "point", "domain": ["WT Naive","WT Naive-Veh","WT Veh","WT Veh-DMF","WT DMF","gap a","gap b","KO Naive","KO Naive-Veh","KO Veh","KO Veh-DMF","KO DMF"], "padding": 1.14}}, "x2": {"field": "to"}, "y": {"field": "y", "type": "quantitative", "axis": {"values": [0, 1, 2, 3], "labelOverlap": false, "labelFlush": false, "labelBound": false, "format": "d", "title": "Folds over Naive"}}}},
 {"data": {"name": "stars"}, "transform": [{"filter": "datum.panel==='IL-1b'"}], "mark": {"type": "text", "text": "*", "fontSize": 16, "dy": 5, "baseline": "alphabetic", "color": "#222"}, "encoding": {"x": {"field": "cond", "type": "nominal", "scale": {"type": "point", "domain": ["WT Naive","WT Naive-Veh","WT Veh","WT Veh-DMF","WT DMF","gap a","gap b","KO Naive","KO Naive-Veh","KO Veh","KO Veh-DMF","KO DMF"], "padding": 1.14}}, "y": {"field": "y", "type": "quantitative", "axis": {"values": [0, 1, 2, 3], "labelOverlap": false, "labelFlush": false, "labelBound": false, "format": "d", "title": "Folds over Naive"}}}},
 {"data": {"name": "titles"}, "transform": [{"filter": "datum.panel==='IL-1b'"}], "mark": {"type": "text", "fontSize": 14, "fontWeight": "bold", "baseline": "middle", "color": "#111"}, "encoding": {"x": {"field": "cond", "type": "nominal", "scale": {"type": "point", "domain": ["WT Naive","WT Naive-Veh","WT Veh","WT Veh-DMF","WT DMF","gap a","gap b","KO Naive","KO Naive-Veh","KO Veh","KO Veh-DMF","KO DMF"], "padding": 1.14}}, "y": {"field": "y", "type": "quantitative", "axis": {"values": [0, 1, 2, 3], "labelOverlap": false, "labelFlush": false, "labelBound": false, "format": "d", "title": "Folds over Naive"}}, "text": {"field": "text"}}},
 {"data": {"name": "conds"}, "mark": {"type": "text", "angle": 270, "align": "right", "baseline": "middle", "fontSize": 11, "yOffset": 3, "color": "#222"}, "encoding": {"x": {"field": "cond", "type": "nominal", "scale": {"type": "point", "domain": ["WT Naive","WT Naive-Veh","WT Veh","WT Veh-DMF","WT DMF","gap a","gap b","KO Naive","KO Naive-Veh","KO Veh","KO Veh-DMF","KO DMF"], "padding": 1.14}}, "y": {"datum": 0, "type": "quantitative", "axis": {"values": [0, 1, 2, 3], "labelOverlap": false, "labelFlush": false, "labelBound": false, "format": "d", "title": "Folds over Naive"}}, "text": {"field": "treat"}}},
 {"data": {"name": "groups"}, "mark": {"type": "rule", "yOffset": 33, "xOffset": -7, "x2Offset": 7, "color": "#222", "strokeWidth": 1}, "encoding": {"x": {"field": "from", "type": "nominal", "scale": {"type": "point", "domain": ["WT Naive","WT Naive-Veh","WT Veh","WT Veh-DMF","WT DMF","gap a","gap b","KO Naive","KO Naive-Veh","KO Veh","KO Veh-DMF","KO DMF"], "padding": 1.14}}, "x2": {"field": "to"}, "y": {"datum": 0, "type": "quantitative", "axis": {"values": [0, 1, 2, 3], "labelOverlap": false, "labelFlush": false, "labelBound": false, "format": "d", "title": "Folds over Naive"}}}},
 {"data": {"name": "groups"}, "mark": {"type": "text", "yOffset": 45, "fontSize": 10.5, "baseline": "middle", "color": "#222"}, "encoding": {"x": {"field": "mid", "type": "nominal", "scale": {"type": "point", "domain": ["WT Naive","WT Naive-Veh","WT Veh","WT Veh-DMF","WT DMF","gap a","gap b","KO Naive","KO Naive-Veh","KO Veh","KO Veh-DMF","KO DMF"], "padding": 1.14}}, "y": {"datum": 0, "type": "quantitative", "axis": {"values": [0, 1, 2, 3], "labelOverlap": false, "labelFlush": false, "labelBound": false, "format": "d", "title": "Folds over Naive"}}, "text": {"field": "group"}}}
]},
{"width": 140, "height": 105, "layer": [
 {"data": {"name": "bars"}, "transform": [{"filter": "datum.panel==='IL-10'"}], "mark": {"type": "bar", "width": 18, "stroke": "#555", "strokeWidth": 1}, "encoding": {"x": {"field": "cond", "type": "nominal", "scale": {"type": "point", "domain": ["WT Naive","WT Naive-Veh","WT Veh","WT Veh-DMF","WT DMF","gap a","gap b","KO Naive","KO Naive-Veh","KO Veh","KO Veh-DMF","KO DMF"], "padding": 1.14}}, "y": {"field": "value", "type": "quantitative", "scale": {"domain": [0, 15000], "nice": false}, "axis": {"values": [0, 5000, 10000, 15000], "labelOverlap": false, "labelFlush": false, "labelBound": false, "labelExpr": "datum.value === 0 ? '0' : (datum.value/1000) + 'K'", "title": "OD"}}, "fill": {"field": "treat", "type": "nominal", "scale": {"domain": ["Naive","Veh","DMF"], "range": ["#ffffff","#d6d6d6","#7b7b7b"]}, "legend": null}}},
 {"data": {"name": "bars"}, "transform": [{"filter": "datum.panel==='IL-10'"}], "mark": {"type": "rule", "color": "#555", "strokeWidth": 1.2}, "encoding": {"x": {"field": "cond", "type": "nominal", "scale": {"type": "point", "domain": ["WT Naive","WT Naive-Veh","WT Veh","WT Veh-DMF","WT DMF","gap a","gap b","KO Naive","KO Naive-Veh","KO Veh","KO Veh-DMF","KO DMF"], "padding": 1.14}}, "y": {"field": "value", "type": "quantitative", "axis": {"values": [0, 5000, 10000, 15000], "labelOverlap": false, "labelFlush": false, "labelBound": false, "labelExpr": "datum.value === 0 ? '0' : (datum.value/1000) + 'K'", "title": "OD"}}, "y2": {"field": "hi"}}},
 {"data": {"name": "bars"}, "transform": [{"filter": "datum.panel==='IL-10'"}], "mark": {"type": "tick", "color": "#555", "thickness": 1.2, "size": 9, "opacity": 1}, "encoding": {"x": {"field": "cond", "type": "nominal", "scale": {"type": "point", "domain": ["WT Naive","WT Naive-Veh","WT Veh","WT Veh-DMF","WT DMF","gap a","gap b","KO Naive","KO Naive-Veh","KO Veh","KO Veh-DMF","KO DMF"], "padding": 1.14}}, "y": {"field": "hi", "type": "quantitative", "axis": {"values": [0, 5000, 10000, 15000], "labelOverlap": false, "labelFlush": false, "labelBound": false, "labelExpr": "datum.value === 0 ? '0' : (datum.value/1000) + 'K'", "title": "OD"}}}},
 {"data": {"name": "sig"}, "transform": [{"filter": "datum.panel==='IL-10'"}], "mark": {"type": "rule", "color": "#444", "strokeWidth": 1.3}, "encoding": {"x": {"field": "from", "type": "nominal", "scale": {"type": "point", "domain": ["WT Naive","WT Naive-Veh","WT Veh","WT Veh-DMF","WT DMF","gap a","gap b","KO Naive","KO Naive-Veh","KO Veh","KO Veh-DMF","KO DMF"], "padding": 1.14}}, "x2": {"field": "to"}, "y": {"field": "y", "type": "quantitative", "axis": {"values": [0, 5000, 10000, 15000], "labelOverlap": false, "labelFlush": false, "labelBound": false, "labelExpr": "datum.value === 0 ? '0' : (datum.value/1000) + 'K'", "title": "OD"}}}},
 {"data": {"name": "stars"}, "transform": [{"filter": "datum.panel==='IL-10'"}], "mark": {"type": "text", "text": "*", "fontSize": 16, "dy": 5, "baseline": "alphabetic", "color": "#222"}, "encoding": {"x": {"field": "cond", "type": "nominal", "scale": {"type": "point", "domain": ["WT Naive","WT Naive-Veh","WT Veh","WT Veh-DMF","WT DMF","gap a","gap b","KO Naive","KO Naive-Veh","KO Veh","KO Veh-DMF","KO DMF"], "padding": 1.14}}, "y": {"field": "y", "type": "quantitative", "axis": {"values": [0, 5000, 10000, 15000], "labelOverlap": false, "labelFlush": false, "labelBound": false, "labelExpr": "datum.value === 0 ? '0' : (datum.value/1000) + 'K'", "title": "OD"}}}},
 {"data": {"name": "titles"}, "transform": [{"filter": "datum.panel==='IL-10'"}], "mark": {"type": "text", "fontSize": 14, "fontWeight": "bold", "baseline": "middle", "color": "#111"}, "encoding": {"x": {"field": "cond", "type": "nominal", "scale": {"type": "point", "domain": ["WT Naive","WT Naive-Veh","WT Veh","WT Veh-DMF","WT DMF","gap a","gap b","KO Naive","KO Naive-Veh","KO Veh","KO Veh-DMF","KO DMF"], "padding": 1.14}}, "y": {"field": "y", "type": "quantitative", "axis": {"values": [0, 5000, 10000, 15000], "labelOverlap": false, "labelFlush": false, "labelBound": false, "labelExpr": "datum.value === 0 ? '0' : (datum.value/1000) + 'K'", "title": "OD"}}, "text": {"field": "text"}}},
 {"data": {"name": "conds"}, "mark": {"type": "text", "angle": 270, "align": "right", "baseline": "middle", "fontSize": 11, "yOffset": 3, "color": "#222"}, "encoding": {"x": {"field": "cond", "type": "nominal", "scale": {"type": "point", "domain": ["WT Naive","WT Naive-Veh","WT Veh","WT Veh-DMF","WT DMF","gap a","gap b","KO Naive","KO Naive-Veh","KO Veh","KO Veh-DMF","KO DMF"], "padding": 1.14}}, "y": {"datum": 0, "type": "quantitative", "axis": {"values": [0, 5000, 10000, 15000], "labelOverlap": false, "labelFlush": false, "labelBound": false, "labelExpr": "datum.value === 0 ? '0' : (datum.value/1000) + 'K'", "title": "OD"}}, "text": {"field": "treat"}}},
 {"data": {"name": "groups"}, "mark": {"type": "rule", "yOffset": 33, "xOffset": -7, "x2Offset": 7, "color": "#222", "strokeWidth": 1}, "encoding": {"x": {"field": "from", "type": "nominal", "scale": {"type": "point", "domain": ["WT Naive","WT Naive-Veh","WT Veh","WT Veh-DMF","WT DMF","gap a","gap b","KO Naive","KO Naive-Veh","KO Veh","KO Veh-DMF","KO DMF"], "padding": 1.14}}, "x2": {"field": "to"}, "y": {"datum": 0, "type": "quantitative", "axis": {"values": [0, 5000, 10000, 15000], "labelOverlap": false, "labelFlush": false, "labelBound": false, "labelExpr": "datum.value === 0 ? '0' : (datum.value/1000) + 'K'", "title": "OD"}}}},
 {"data": {"name": "groups"}, "mark": {"type": "text", "yOffset": 45, "fontSize": 10.5, "baseline": "middle", "color": "#222"}, "encoding": {"x": {"field": "mid", "type": "nominal", "scale": {"type": "point", "domain": ["WT Naive","WT Naive-Veh","WT Veh","WT Veh-DMF","WT DMF","gap a","gap b","KO Naive","KO Naive-Veh","KO Veh","KO Veh-DMF","KO DMF"], "padding": 1.14}}, "y": {"datum": 0, "type": "quantitative", "axis": {"values": [0, 5000, 10000, 15000], "labelOverlap": false, "labelFlush": false, "labelBound": false, "labelExpr": "datum.value === 0 ? '0' : (datum.value/1000) + 'K'", "title": "OD"}}, "text": {"field": "group"}}}
]},
{"width": 140, "height": 105, "data": {"values": []}, "mark": "text", "encoding": {}}
]
}
